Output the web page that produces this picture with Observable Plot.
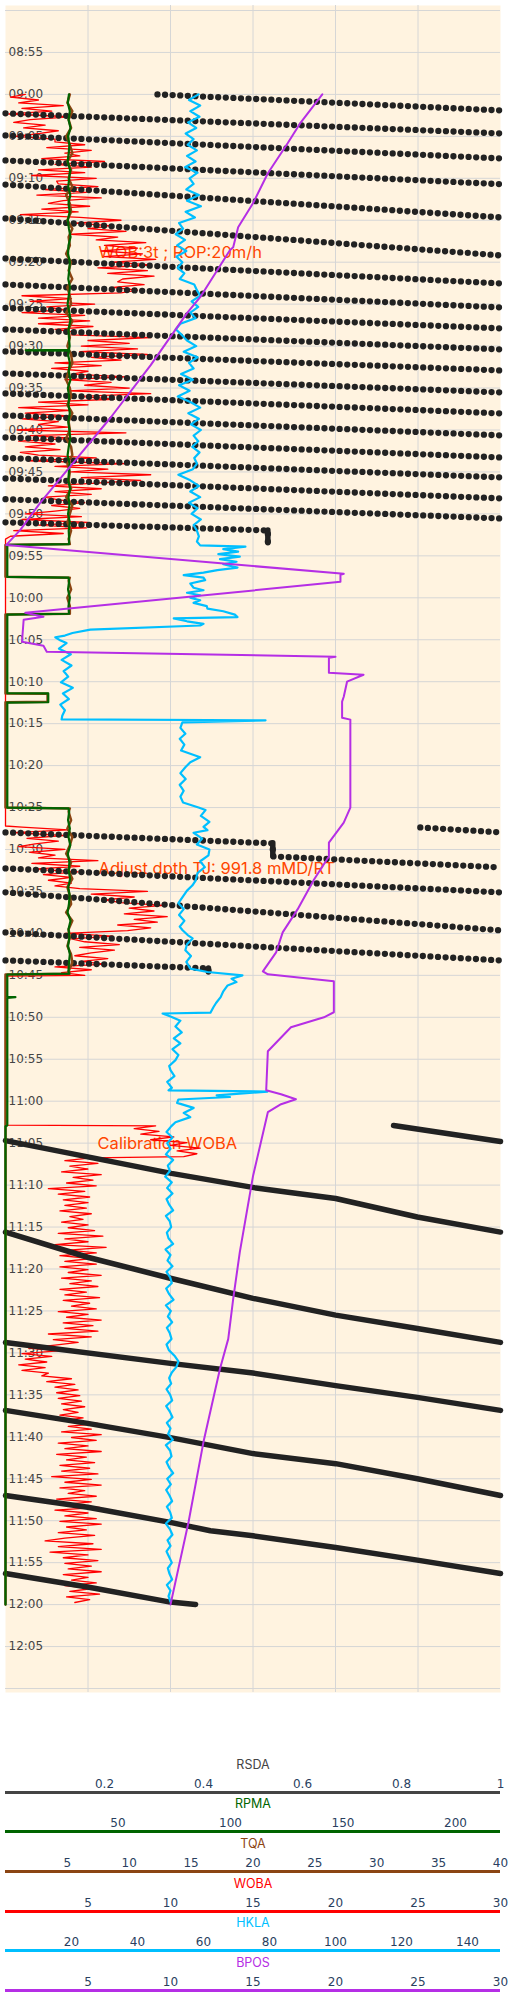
<!DOCTYPE html>
<html>
<head>
<meta charset="utf-8">
<script src="https://cdn.jsdelivr.net/npm/d3@7"></script>
<script src="https://cdn.jsdelivr.net/npm/@observablehq/plot@0.6"></script>
<style>
  html, body { margin: 0; padding: 0; background: #ffffff; }
  #chart { position: relative; width: 508px; height: 2000px; overflow: hidden; }
  #chart > svg { position: absolute; left: 0; }
</style>
</head>
<body>
<div id="chart"></div>
<script>
// ================= DATA =================
// time origin: every minute offset below counts from this clock time
const startTime = "09:00";

const gridTimes = ["08:50","08:55","09:00","09:05","09:10","09:15","09:20","09:25","09:30","09:35","09:40","09:45","09:50","09:55",
  "10:00","10:05","10:10","10:15","10:20","10:25","10:30","10:35","10:40","10:45","10:50","10:55",
  "11:00","11:05","11:10","11:15","11:20","11:25","11:30","11:35","11:40","11:45","11:50","11:55","12:00","12:05","12:10"];
const labelTimes = gridTimes.slice(1, -1);

// bottom axes
const axisNames = ["RSDA", "RPMA", "TQA", "WOBA", "HKLA", "BPOS"];
const rsdaRange = [0, 1];
const rpmaRange = [0, 220];
const tqaRange = [0, 40];
const wobaRange = [0, 30];
const hklaRange = [0, 150];
const bposRange = [0, 30];
const rsdaTicks = [0.2, 0.4, 0.6, 0.8, 1];
const rpmaTicks = [50, 100, 150, 200];
const tqaTicks = [5, 10, 15, 20, 25, 30, 35, 40];
const wobaTicks = [5, 10, 15, 20, 25, 30];
const hklaTicks = [20, 40, 60, 80, 100, 120, 140];
const bposTicks = [5, 10, 15, 20, 25, 30];

// annotations  [minutes, WOBA value]
const noteTexts = ["WOB:3t ; ROP:20m/h", "Adjust dpth TJ: 991.8 mMD/RT", "Calibration WOBA"];
const noteMinutes = [18.83, 92.25, 125.03];
const noteWoba = [5.64, 5.64, 5.58];

// ---- WOBA (20 s samples) ----
const wobaRun1 = [1.2,0.3,2.0,0.8,3.5,1.0,2.8,0.2,3.9,1.5,0.5,2.4,1.1,3.2,2.0,0.6,3.0,
  3.0,4.8,2.5,5.2,3.6, 4.5,2.2,6.0,3.0,5.2, 2.0,4.8,1.6,5.5,3.1,
  3.2,5.6,2.4,4.9,1.9,5.8,3.5,2.6,5.1,2.2,4.4,0.9,
  4.5,7.0,4.2,6.5,5.0,7.3,4.0,6.8,5.5,8.5,6.0,8.0,5.8,8.3,
  6.0,9.1,6.5,8.8, 5.6,8.6,6.2,9.0,7.1, 6.8,8.4,6.5,8.0,7.0,
  1.0,4.0,1.5,5.4,2.5, 3.5,1.0,4.8,2.0,5.1, 2.0,5.3,3.0,4.2,
  4.0,8.8,5.0,7.5,4.6, 8.0,4.5,8.6,5.2,7.0, 3.0,5.8,2.8,5.0,
  4.0,7.3,3.6,6.4,4.8, 7.5,3.8,8.8,4.5,6.6, 2.0,5.0,0.8,4.0,
  1.2,3.8,1.0,3.2,2.0, 3.8,0.7,7.3,1.5,4.2, 0.8,3.0,1.2,3.3,0.9,
  2.0,5.5,1.4,7.3,3.0,6.2, 4.0,8.8,4.6,8.2,5.5, 2.6,5.8,3.0,5.2,2.4,
  3.2,4.8,2.8,4.5,3.0, 1.2,4.6,1.0,5.0,2.0, 4.9,0.5,3.5,0.3,0];
const wobaRun2 = [1.0,3.8,0.5, 3.5,1.3,3.2,1.8, 0.8,3.6,1.5,3.0, 2.0,5.6,1.6,4.5, 1.7,4.4,2.3,4.0,
  2.6,4.0,3.0, 4.5,8.6,5.2,7.8,6.0, 7.0,9.6,7.5,9.0,7.2,9.8,7.8,9.2, 6.8,8.8,7.4, 3.6,6.5,4.0,
  4.8,6.9,4.5,6.6,5.2, 4.2,6.2,4.6,6.0, 3.0,5.2,3.4,4.8];
const wobaCalib = [9.1,7.8,9.3,8.2,10.2,8.8,11.0,10.0,11.8,10.4,11.6,10.8];
const wobaRun3 = [5.2,3.6,5.6,3.9,5.0,3.4,5.8,4.1,5.3,3.7,5.5,
  2.6,4.8,3.2,5.1,
  3.5,5.0,3.6,4.9,3.3,5.2,3.9,4.7,3.4,5.0,3.8,
  5.4,3.2,5.9,3.6,5.0,3.0,6.1,3.8,5.5,3.3,5.2,
  3.6,5.5,3.3,5.0,3.8,5.8,3.4,5.2,3.9,5.6,3.3,4.9,3.6,5.7,3.5,5.1,4.0,5.5,3.2,5.0,3.7,5.8,3.5,5.3,3.6,
  5.6,2.6,5.2,2.9,4.4,
  3.0,1.4,3.2,1.0,2.8,1.2,2.5,
  0.8,2.4,1.0,2.6,
  2.2,4.0,2.5,4.2,3.0,
  4.4,3.1,4.5,3.2,
  4.6,3.4,4.8,3.5,4.4,3.3,4.7,
  3.5,5.6,3.8,5.2,3.4,5.8,4.0,
  5.5,3.2,5.0,3.6,5.8,3.1,4.9,3.7,5.4,3.3,5.1,
  3.4,5.6,2.8,5.2,3.6,5.8,3.3,4.8,3.8,5.5,3.1,
  5.2,3.4,5.7,3.0,5.0,3.6,5.5,3.3,5.8,3.7,4.9,3.2,5.4,3.6,
  2.4,5.3,3.2,5.8,2.7,5.0,3.5,
  5.6,3.6,5.2,3.8,5.8,3.5,5.0,4.0,5.5,3.6,5.3,3.9,5.7,3.7,5.1,4.2];
const wobaParts = [
  {start: 0, step: 20, values: wobaRun1},
  {points: [[53.2, 0], [87.2, 0]]},
  {start: 87.33, step: 20, values: wobaRun2},
  {points: [[105.1, 0], [122.85, 0]]},
  {start: 122.93, step: 20, values: wobaCalib},
  {start: 126.75, step: 20, values: wobaRun3}
];

// ---- HKLA ----
const hklaRun1 = [58.5,55.6,59.0,56.0,58.8,55.3, 57.8,54.6,57.0,55.2,58.0,
  55.0,57.6,54.4,58.2,55.8,57.0,54.8, 58.6,55.0,59.2,54.6,57.4,52.6,
  53.8,51.6,54.4,52.0,54.8,51.8,53.6,52.2,54.2,52.8, 57.2,58.0,
  59.0,56.4,58.4,56.0,57.6, 53.0,51.6,53.4, 55.0,57.8,54.0,58.2,55.6,57.0,
  53.2,56.8,52.6,55.8,52.2, 56.0,59.0,55.4,58.6,56.2,59.2,57.0,
  58.4,56.6,58.8,57.2,58.0,56.8, 52.4,56.0,
  58.6,56.0,59.0,55.6,58.2,56.4,59.2,57.0,58.0,58.6];
const hklaPts1 = [[53.3,58.0],[53.75,59.0],[53.9,72.7],[54.2,66.0],[54.5,70.5],[54.8,64.5],[55.1,71.0],[55.4,65.0],
  [55.7,70.0],[56.0,66.0],[56.4,70.3],[56.7,64.2],[57.0,60.0],[57.3,54.0],[57.6,60.0],[57.9,60.5],[58.3,56.0],
  [58.8,57.0],[59.1,60.0],[59.4,55.0],[59.7,59.0],[60.0,56.0],[60.3,59.0],[60.6,57.0],[61.0,61.0],[61.3,61.2],
  [61.6,66.0],[62.0,69.5],[62.3,70.3],[62.45,51.0],[62.8,55.0],[63.1,60.0],[63.3,59.0],[63.8,25.7],[64.2,20.3],
  [64.5,18.0],[64.7,15.1],[65.1,16.7]];
const hklaLow = [18.5,16.2,19.8,17.0,20.0,17.6,19.0,16.8,20.4,17.4,19.2,16.6,18.0,17.2];
const hklaPts2 = [[74.5,17.0],[74.6,78.8],[74.85,53.6],[75.5,53.0],[76.2,54.5],[76.8,52.8],[77.5,54.2],[78.2,53.2],
  [79.0,59.0],[79.6,56.0],[80.2,54.5],[80.9,53.0],[81.6,54.6],[82.3,52.8],[83.0,54.0],[83.7,53.0],[84.4,53.8],
  [85.0,58.5],[85.3,60.6],[86.0,59.2],[86.7,61.8],[87.3,60.0],[87.7,61.2],[88.0,57.0],[88.7,59.6],[89.4,58.0],
  [90.0,61.8],[90.7,61.5],[91.4,59.0],[92.1,60.4],[92.8,58.2],[93.7,57.6],[94.3,56.6],[94.9,55.0],[95.6,53.8],
  [96.4,52.4],[97.1,54.0],[97.8,52.6],[98.5,54.2],[99.2,52.8],[99.6,53.6],[100.2,55.2],[100.6,56.7],[101.3,55.0],
  [102.0,54.5],[102.7,56.2],[103.4,54.8],[104.2,56.0],[104.6,61.2],[105.0,71.8],[105.4,68.5],[105.8,70.0],
  [106.2,67.3],[106.9,66.0],[107.6,65.2],[108.3,63.8],[108.8,63.0],[109.45,62.1],[109.55,47.6],[109.9,50.0],
  [110.4,53.0],[111.1,51.5],[111.8,53.4],[112.5,51.0],[113.1,53.0],[113.8,50.6],[114.5,52.4],[115.1,51.5],
  [115.8,49.6],[116.3,50.0],[117.0,51.2],[117.7,49.0],[118.4,50.4],[118.7,49.4],[118.85,79.4],[119.1,71.0],
  [119.3,64.0],[119.5,68.0],[119.8,52.4],[120.2,52.0],[120.8,57.0],[121.4,54.0],[121.9,56.0],[122.5,51.5]];
const hklaRun2 = [50.2,48.8,50.6,49.0,50.0,48.6,50.8,49.2,49.8,48.4,50.4,49.0,50.6,48.8,49.6,50.8,48.6,49.8,50.2,48.9,
  49.4,50.8,48.5,50.0,49.1,50.6,48.8,49.9,50.4,48.7, 49.6,50.9,48.6,50.1,49.2,50.5,48.9,49.8,50.3,48.8,
  49.5,51.2,52.4,51.8,50.4,49.6,50.2,48.8,49.9,50.5, 48.7,49.8,50.6,48.9,50.0,49.3,50.7,48.6,49.9,50.3,
  48.8,49.6,50.8,49.0,50.1,48.7,49.7,50.5,48.9,49.9, 50.4,48.6,49.8,50.6,49.1,50.0,48.8,49.6,50.4,49.2,
  49.7,50.5,48.9,50.0,49.4,50.0];
const hklaParts = [
  {start: 0, step: 40, values: hklaRun1},
  {points: hklaPts1},
  {start: 65.4, step: 40, values: hklaLow},
  {points: hklaPts2},
  {start: 123.0, step: 40, values: hklaRun2}
];

// ---- RPMA ----
const rpmaRun1a = [28.2,27.7,28.6,28.0,28.9,27.8,28.4,28.1,27.6,28.7,28.3,27.9,28.8,28.0,28.5,27.7,28.2,28.9,28.0,27.8,
  28.6,28.3,27.9,28.7,28.1,27.6,28.4,28.8,28.0,28.2,28.5];
const rpmaDip = [[30.45,28.2],[30.5,9.0],[30.55,28.3]];
const rpmaRun1b = [27.8,28.6,28.1,28.9,27.7,28.3,28.0,28.6,27.9,28.4,28.8,28.1,27.6,28.5,28.2,27.9,28.7,28.0,28.4,27.8,28.6,28.1,28.3];
const rpmaPts1 = [[53.6,28.2],[53.7,0.8],[57.5,0.8],[57.6,28.0]];
const rpmaRun2 = [28.3,27.8,28.6,28.0];
const rpmaPts2 = [[61.9,28.2],[62.0,0.8],[71.35,0.8],[71.4,19.0],[72.45,19.0],[72.5,0.8],[85.0,0.8],[85.1,28.0]];
const rpmaRun3 = [28.3,27.8,28.6,28.0,28.8,27.7,28.4,28.1,28.7,27.9,28.5,28.2,27.6,28.9,28.0,28.4,27.8,28.6,28.2,28.0];
const rpmaPts3 = [[104.8,28.2],[104.9,0.8],[107.55,0.8],[107.6,4.4],[107.7,0.8],[122.9,0.8],[123.0,0],[180,0]];
const rpmaParts = [
  {start: 0, step: 60, values: rpmaRun1a}, {points: rpmaDip}, {start: 31, step: 60, values: rpmaRun1b},
  {points: rpmaPts1}, {start: 58, step: 60, values: rpmaRun2}, {points: rpmaPts2},
  {start: 85.5, step: 60, values: rpmaRun3}, {points: rpmaPts3}
];

// ---- TQA ----
const tqaRun1 = [5.2,5.0,5.4,5.1,5.3,4.9,5.2,5.4,5.0,5.3, 5.1,5.4,4.9,5.2,5.3,5.0,5.4,5.1,5.2,4.9,
  5.3,5.1,5.4,5.0,5.2,5.3,4.9,5.4,5.1,5.2, 5.0,5.3,5.4,5.1,4.9,5.2,5.3,5.0,5.4,5.1,
  5.2,4.9,5.3,5.4,5.0,5.2,5.1,5.3,4.9,5.4, 5.2,5.0,5.3,5.1];
const tqaPts1 = [[53.6,5.2],[53.7,0],[57.5,0],[57.6,5.2]];
const tqaRun2 = [5.1,5.3,5.0,5.2];
const tqaPts2 = [[61.9,5.2],[62.0,0],[71.4,0],[71.45,3.4],[72.4,3.4],[72.45,0],[85.0,0],[85.1,5.2]];
const tqaRun3 = [5.1,5.3,5.0,5.4,5.2,4.9,5.3,5.1,5.4,5.0,5.2,5.3,4.9,5.4,5.1,5.2,5.0,5.3,5.4,5.1];
const tqaPts3 = [[104.8,5.2],[104.9,0],[180,0]];
const tqaParts = [
  {start: 0, step: 60, values: tqaRun1}, {points: tqaPts1}, {start: 58, step: 60, values: tqaRun2},
  {points: tqaPts2}, {start: 85.5, step: 60, values: tqaRun3}, {points: tqaPts3}
];

// ---- BPOS [minutes, value] ----
const bposPts = [[0,19.2],[3.33,17.9],[5.83,17.1],[9.4,15.9],[12.98,15.0],[15.83,14.1],[18.21,13.8],[18.57,13.6],
  [24.17,11.8],[26.07,11.0],[32.26,8.8],[38.45,6.4],[43.93,4.1],[48.69,2.1],[51.9,0.9],[53.7,0.05],
  [57.14,20.5],[57.26,20.3],[58.1,20.3],[61.79,1.2],[62.26,2.3],[62.62,1.1],[65.24,1.0],[65.71,2.3],[66.43,2.5],
  [67.02,20.0],[67.14,19.6],[68.93,19.6],[69.17,21.7],[70.0,20.7],[71.79,20.5],[72.38,20.4],[74.29,20.4],[74.52,20.9],
  [85.0,20.9],[86.79,20.5],[89.17,19.6],[90.83,19.6],[93.57,18.7],[97.14,17.7],[99.88,16.8],[102.26,16.4],
  [104.52,15.6],[104.88,15.9],[105.71,19.9],[109.4,19.9],[110.0,19.3],[110.83,17.9],[111.19,17.3],[114.05,15.9],
  [118.69,15.8],[119.17,16.7],[119.76,17.6],[120.36,16.7],[121.31,15.9],[128.93,15.0],[137.98,14.2],[143.57,13.8],
  [148.33,13.5],[151.9,13.0],[160.6,12.0],[170.1,11.1],[180,10.0]];

// ---- RSDA wraps [minutes, value] ----
const rsdaSegments = [
  [[0,0.307],[1.91,1]], [[2.26,0],[4.65,1]], [[4.89,0],[7.63,1]], [[7.87,0],[10.7,1]],
  [[10.75,0],[14.66,1]], [[14.78,0],[19.19,1]], [[19.55,0],[22.53,1]], [[22.65,0],[25.39,1]],
  [[25.45,0],[27.89,1]], [[28.01,0],[30.39,1]], [[30.63,0],[32.9,1]], [[33.25,0],[35.52,1]],
  [[35.64,0],[38.02,1]], [[38.26,0],[40.64,1]], [[40.88,0],[43.27,1]], [[43.33,0],[45.65,1]],
  [[45.77,0],[48.15,1]], [[48.25,0],[50.54,1]], [[51.0,0],[51.97,0.53],[53.5,0.53]],
  [[87.37,0.838],[87.96,1]], [[87.96,0],[89.27,0.54],[90.82,0.54],[92.13,1]], [[92.25,0],[95.11,1]],
  [[95.11,0],[99.64,1]], [[99.88,0],[103.22,1]], [[103.22,0],[104.17,0.41],[104.65,0.41]],
  [[122.9,0.784],[124.8,1]],
  [[124.7,0],[128.6,0.335],[130.3,0.502],[131.0,0.59],[131.6,0.667],[133.8,0.832],[135.6,1]],
  [[135.6,0],[138.6,0.166],[141.1,0.333],[143.5,0.5],[145.5,0.667],[147.1,0.832],[148.75,1]],
  [[148.75,0],[151.25,0.333],[152.4,0.5],[153.9,0.667],[155.3,0.832],[156.85,1]],
  [[156.85,0],[158.4,0.166],[160.1,0.333],[162.0,0.5],[163.2,0.667],[165.0,0.832],[167.0,1]],
  [[167.0,0],[168.4,0.166],[170.2,0.333],[171.2,0.414],[171.8,0.5],[173.2,0.667],[174.7,0.832],[176.3,1]],
  [[176.3,0],[177.9,0.166],[179.7,0.333],[180.0,0.384]]
];

// ================= RENDER =================
const [h0, m0] = startTime.split(":").map(Number);
const BASE = Date.UTC(2024, 0, 1, h0, m0);
const M = m => new Date(BASE + Math.round(m * 60000));
const T = s => { const [h, mi] = s.split(":").map(Number); return new Date(Date.UTC(2024, 0, 1, h, mi)); };
function expand(parts) {
  const out = [];
  for (const p of parts) {
    if (p.points) for (const [m, v] of p.points) out.push({t: M(m), v});
    else p.values.forEach((v, i) => out.push({t: M(p.start + i * p.step / 60), v}));
  }
  return out;
}

const C = {
  bg: "#fff3e0", grid: "#d6d6d6", label: "#444444", tick: "#2a3f5f",
  rsda: "#222222", rpma: "#006400", tqa: "#8b4513", woba: "#ff0000",
  hkla: "#00bfff", bpos: "#b52ee5", note: "#ff4500"
};
const chart = document.getElementById("chart");
const W = 508, H = 1697;
const yDomain = [M(-10.596), M(190.477)];

function layer(xDomain, marks) {
  const svg = Plot.plot({
    width: W, height: H, marginLeft: 5, marginRight: 8, marginTop: 5, marginBottom: 5,
    x: {domain: xDomain, axis: null},
    y: {type: "utc", domain: yDomain, reverse: true, axis: null},
    style: {background: "transparent", overflow: "visible", fontFamily: "DejaVu Sans", fontSize: "12px"},
    marks
  });
  svg.style.top = "0px";
  chart.appendChild(svg);
}

// base: background, grid, time labels
layer(wobaRange, [
  Plot.frame({fill: C.bg, stroke: "none"}),
  Plot.ruleX(wobaTicks.filter(v => v < wobaRange[1]), {stroke: C.grid, strokeWidth: 1}),
  Plot.ruleY(gridTimes.map(T), {stroke: C.grid, strokeWidth: 1}),
  Plot.text(labelTimes, {y: d => T(d), text: d => d, frameAnchor: "left", dx: 3, textAnchor: "start",
    fill: C.label, fontSize: 12, fontFamily: "DejaVu Sans"})
]);

// annotations + WOBA
const notes = noteTexts.map((s, i) => ({s, t: M(noteMinutes[i]), v: noteWoba[i]}));
layer(wobaRange, [
  Plot.text(notes, {x: "v", y: "t", text: "s", textAnchor: "start", fill: C.note, fontSize: 16.5, fontFamily: "Inter"}),
  Plot.line(expand(wobaParts), {x: "v", y: "t", stroke: C.woba, strokeWidth: 1.3})
]);

// RSDA
const rsdaPts = rsdaSegments.flatMap((seg, i) => seg.map(([m, v]) => ({t: M(m), v, seg: i})));
const rsdaHold = [];
rsdaSegments.forEach(seg => seg.forEach((p, j) => {
  if (j > 0 && p[1] === seg[j - 1][1]) rsdaHold.push({t1: M(seg[j - 1][0]), t2: M(p[0]), v: p[1]});
}));
const solidFrom = T("11:00");
layer(rsdaRange, [
  Plot.line(rsdaPts.filter(d => d.t < solidFrom), {x: "v", y: "t", z: "seg", stroke: C.rsda, strokeWidth: 6.3,
    strokeLinecap: "round", strokeDasharray: "0 7.6"}),
  Plot.line(rsdaPts.filter(d => d.t >= solidFrom), {x: "v", y: "t", z: "seg", stroke: C.rsda, strokeWidth: 5.5,
    strokeLinecap: "round", strokeLinejoin: "round"}),
  Plot.ruleX(rsdaHold, {x: "v", y1: "t1", y2: "t2", stroke: C.rsda, strokeWidth: 5.5, strokeLinecap: "round"})
]);

// TQA, RPMA, HKLA, BPOS
layer(tqaRange, [Plot.line(expand(tqaParts), {x: "v", y: "t", stroke: C.tqa, strokeWidth: 2.5})]);
layer(rpmaRange, [Plot.line(expand(rpmaParts), {x: "v", y: "t", stroke: C.rpma, strokeWidth: 2.2})]);
layer(hklaRange, [Plot.line(expand(hklaParts), {x: "v", y: "t", stroke: C.hkla, strokeWidth: 2.2})]);
layer(bposRange, [Plot.line(bposPts.map(([m, v]) => ({t: M(m), v})), {x: "v", y: "t", stroke: C.bpos, strokeWidth: 2})]);

// bottom axes
const axisRanges = [rsdaRange, rpmaRange, tqaRange, wobaRange, hklaRange, bposRange];
const axisTicks = [rsdaTicks, rpmaTicks, tqaTicks, wobaTicks, hklaTicks, bposTicks];
const axisColors = ["#444444", C.rpma, C.tqa, C.woba, C.hkla, C.bpos];
const axisLineColors = ["#444444", C.rpma, C.tqa, C.woba, C.hkla, C.bpos];
const axisLineY = [1792, 1831, 1871, 1911, 1950, 1990];
const fmt = d3.format("~g");
axisNames.forEach((name, i) => {
  const svg = Plot.plot({
    width: W, height: 44, marginLeft: 5, marginRight: 8, marginTop: 40, marginBottom: 4,
    x: {domain: axisRanges[i], ticks: axisTicks[i], tickFormat: fmt, axis: "top", tickSize: 0, tickPadding: 5, label: null},
    y: {domain: [0, 1], axis: null},
    style: {background: "transparent", overflow: "visible", fontFamily: "DejaVu Sans", fontSize: "12px", color: C.tick},
    marks: [
      Plot.ruleY([1], {stroke: axisLineColors[i], strokeWidth: 3}),
      Plot.text([name], {frameAnchor: "top", dy: -32, fill: axisColors[i], fontSize: 12.5, fontFamily: "Inter"})
    ]
  });
  svg.style.top = (axisLineY[i] - 40) + "px";
  chart.appendChild(svg);
});
</script>
</body>
</html>
